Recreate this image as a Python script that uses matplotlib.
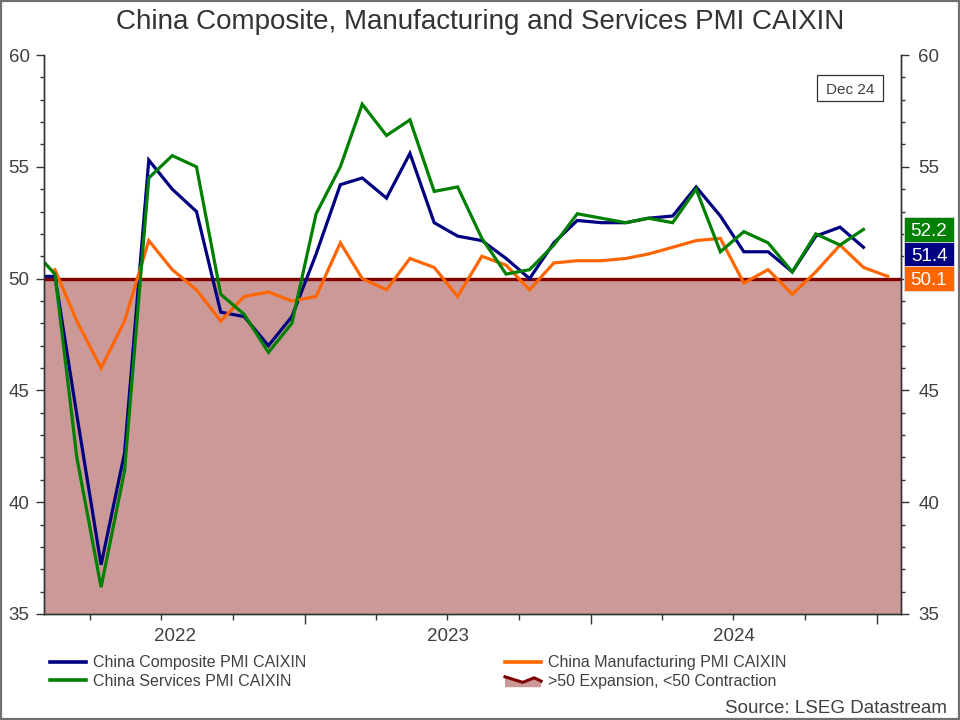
import matplotlib
matplotlib.use('Agg')
import matplotlib.pyplot as plt
import matplotlib.dates as mdates
import matplotlib.ticker as mticker
import numpy as np
import pandas as pd
from matplotlib.patches import Rectangle, Polygon
from matplotlib.lines import Line2D
from matplotlib.legend_handler import HandlerBase
from matplotlib.transforms import blended_transform_factory

plt.rcParams['font.family'] = ['Liberation Sans', 'DejaVu Sans']

# ---------------- data ----------------
TITLE = "China Composite, Manufacturing and Services PMI CAIXIN"
SOURCE = "Source: LSEG Datastream"
DATE_TAG = "Dec 24"
THRESHOLD = 50
LEGEND_LABELS = ["China Composite PMI CAIXIN", "China Services PMI CAIXIN",
                 "China Manufacturing PMI CAIXIN", ">50 Expansion, <50 Contraction"]

composite_start = "2022-01"
composite = [50.1, 50.1, 43.9, 37.2, 42.2, 55.3, 54.0, 53.0, 48.5, 48.3, 47.0, 48.3,
             51.1, 54.2, 54.5, 53.6, 55.6, 52.5, 51.9, 51.7, 50.9, 50.0, 51.6, 52.6,
             52.5, 52.5, 52.7, 52.8, 54.1, 52.8, 51.2, 51.2, 50.3, 51.9, 52.3, 51.4]

services_start = "2022-01"
services = [51.4, 50.2, 42.0, 36.2, 41.4, 54.5, 55.5, 55.0, 49.3, 48.4, 46.7, 48.0,
            52.9, 55.0, 57.8, 56.4, 57.1, 53.9, 54.1, 51.8, 50.2, 50.4, 51.5, 52.9,
            52.7, 52.5, 52.7, 52.5, 54.0, 51.2, 52.1, 51.6, 50.3, 52.0, 51.5, 52.2]

manufacturing_start = "2022-02"
manufacturing = [50.4, 48.1, 46.0, 48.1, 51.7, 50.4, 49.5, 48.1, 49.2, 49.4, 49.0,
                 49.2, 51.6, 50.0, 49.5, 50.9, 50.5, 49.2, 51.0, 50.6, 49.5, 50.7, 50.8,
                 50.8, 50.9, 51.1, 51.4, 51.7, 51.8, 49.8, 50.4, 49.3, 50.3, 51.5, 50.5,
                 50.1]

X_START = "2022-02-01"
X_END = "2025-02-01"
Y_MIN, Y_MAX = 35, 60

C_COMP = "#000080"
C_SERV = "#008000"
C_MANU = "#FF6600"
C_FILL = "#CC9999"
C_LINE50 = "#800000"
C_TEXT = "#404040"


def month_dates(start, n):
    return pd.period_range(start, periods=n, freq="M").to_timestamp() + pd.Timedelta(days=14)


d_comp = month_dates(composite_start, len(composite))
d_serv = month_dates(services_start, len(services))
d_manu = month_dates(manufacturing_start, len(manufacturing))

# ---------------- figure ----------------
W, H = 960, 720
fig = plt.figure(figsize=(W / 100, H / 100), dpi=100)
fig.patch.set_facecolor("white")
ax = fig.add_axes([44 / W, 1 - 614 / H, 857 / W, 559 / H])
ax2 = ax.twinx()

x0, x1 = pd.Timestamp(X_START), pd.Timestamp(X_END)
ax.set_xlim(x0, x1)
ax.set_ylim(Y_MIN, Y_MAX)
ax2.set_ylim(Y_MIN, Y_MAX)

# contraction zone
ax.axhspan(Y_MIN, THRESHOLD, color=C_FILL, lw=0, zorder=0.5)
ax.axhline(THRESHOLD, color=C_LINE50, lw=2.4, zorder=1)

lw = 2.3
l_comp, = ax.plot(d_comp, composite, color=C_COMP, lw=lw, zorder=3, solid_joinstyle="miter")
l_manu, = ax.plot(d_manu, manufacturing, color=C_MANU, lw=lw, zorder=3, solid_joinstyle="miter")
l_serv, = ax.plot(d_serv, services, color=C_SERV, lw=lw, zorder=3, solid_joinstyle="miter")

# spines
for a in (ax, ax2):
    a.spines["top"].set_visible(False)
    for s in ("left", "right", "bottom"):
        a.spines[s].set_color("#333333")
        a.spines[s].set_linewidth(1.0)

# x ticks
ax.xaxis.set_major_locator(mdates.YearLocator())
ax.xaxis.set_minor_locator(mdates.MonthLocator(bymonth=[1, 4, 7, 10]))
ax.xaxis.set_major_formatter(mticker.NullFormatter())
ax.xaxis.set_minor_formatter(mticker.NullFormatter())
ax.tick_params(axis="x", which="major", length=7, width=1, color="#333333", direction="out")
ax.tick_params(axis="x", which="minor", length=4, width=1, color="#333333", direction="out")

# year labels centred on the visible part of each year
trans = blended_transform_factory(ax.transData, ax.transAxes)
for yr in range(x0.year, x1.year + 1):
    a_ = max(pd.Timestamp(f"{yr}-01-01"), x0)
    b_ = min(pd.Timestamp(f"{yr + 1}-01-01"), x1)
    if (b_ - a_).days < 60:
        continue
    mid = a_ + (b_ - a_) / 2
    ax.annotate(str(yr), xy=(mdates.date2num(mid), 0), xycoords=trans,
                xytext=(0, -19.5), textcoords="offset points",
                ha="center", va="baseline", fontsize=13.5, color=C_TEXT)

# last value boxes on the right (stacked top-down)
last = [(services[-1], C_SERV), (composite[-1], C_COMP), (manufacturing[-1], C_MANU)]
last.sort(key=lambda t: -t[0])
sep = 1.1
pos = []
prev = None
for v, c in last:
    y = v if prev is None else min(v, prev - sep)
    pos.append((y, v, c))
    prev = y
covered = [(y - sep / 2 - 0.3, y + sep / 2 + 0.3) for y, _, _ in pos]

# y ticks
for a in (ax, ax2):
    a.yaxis.set_major_locator(mticker.MultipleLocator(5))
    a.yaxis.set_minor_locator(mticker.MultipleLocator(1))


def right_fmt(val, _):
    # labels hidden behind the value boxes are left blank
    for lo, hi in covered:
        if lo <= val <= hi:
            return ""
    return f"{val:g}"


ax2.yaxis.set_major_formatter(mticker.FuncFormatter(right_fmt))
ax.tick_params(axis="y", which="major", length=6, width=1, color="#333333",
               labelsize=13.5, labelcolor=C_TEXT, pad=4.3)
ax.tick_params(axis="y", which="minor", length=3, width=1, color="#333333")
ax2.tick_params(axis="y", which="major", length=6, width=1, color="#333333",
                labelsize=13.5, labelcolor=C_TEXT, pad=6.5)
ax2.tick_params(axis="y", which="minor", length=3, width=1, color="#333333")

btrans = blended_transform_factory(ax2.transAxes, ax2.transData)
bx = 1 + 3 / 857
bw = 50 / 857
for y, v, c in pos:
    r = Rectangle((bx, y - sep / 2), bw, sep, transform=btrans, facecolor=c,
                  edgecolor="#dddddd", lw=0.6, clip_on=False, zorder=6)
    ax2.add_patch(r)
    ax2.text(bx + bw / 2, y, f"{v:.1f}", transform=btrans, ha="center",
             va="center_baseline", color="white", fontsize=13.5, zorder=7, clip_on=False)

# date tag box
ax2.add_patch(Rectangle(((817 - 44) / 857, (614 - 101) / 559), 66 / 857, 26 / 559,
                        transform=ax2.transAxes, facecolor="white", edgecolor="#333333",
                        lw=0.9, zorder=6))
ax2.text((850 - 44) / 857, (614 - 88) / 559, DATE_TAG, transform=ax2.transAxes,
         ha="center", va="center_baseline", fontsize=11, color=C_TEXT, zorder=7)


# legend
class ZigzagHandler(HandlerBase):
    def create_artists(self, legend, orig_handle, xdescent, ydescent, width, height,
                       fontsize, trans):
        xs0, ys0 = -xdescent, -ydescent
        fx = np.array([0.0, 0.49, 0.81, 1.0])
        fy = np.array([0.8, 0.35, 0.72, 0.45])
        xs = xs0 + fx * width
        ys = ys0 - 0.1 * height + fy * height * 1.1
        bottom = ys0 - 0.15 * height
        pts = np.column_stack([np.r_[xs, xs[-1], xs[0]], np.r_[ys, bottom, bottom]])
        poly = Polygon(pts, closed=True, facecolor=C_FILL, edgecolor="none", transform=trans)
        ln = Line2D(xs, ys, color=C_LINE50, lw=2.2, transform=trans,
                    solid_joinstyle="miter")
        return [poly, ln]


zig = object()
leg_kw = dict(frameon=False, fontsize=11.5, handlelength=2.26, handletextpad=0.44,
              borderpad=0, borderaxespad=0, labelspacing=0.19, labelcolor=C_TEXT)
leg1 = fig.legend(handles=[l_comp, l_serv], labels=LEGEND_LABELS[:2], loc="upper left",
                  bbox_to_anchor=(50 / W, 1 - 655.5 / H), **leg_kw)
leg2 = fig.legend(handles=[l_manu, zig], labels=LEGEND_LABELS[2:], loc="upper left",
                  bbox_to_anchor=(505 / W, 1 - 655.5 / H),
                  handler_map={zig: ZigzagHandler()}, **leg_kw)
for lg in (leg1, leg2):
    for h in lg.legend_handles:
        if isinstance(h, Line2D):
            h.set_linewidth(2.6)

# title and source
fig.text(0.5, 1 - 22 / H, TITLE, ha="center", va="center", fontsize=20, color="#333333")
fig.text(947 / W, 1 - 713 / H, SOURCE, ha="right", va="baseline", fontsize=13.5,
         color=C_TEXT)

# outer border
fig.add_artist(Rectangle((1 / W, 1 / H), 1 - 2 / W, 1 - 2 / H, transform=fig.transFigure,
                         fill=False, edgecolor="#707070", lw=1.6))

fig.savefig("out.png", dpi=100, facecolor="white")
